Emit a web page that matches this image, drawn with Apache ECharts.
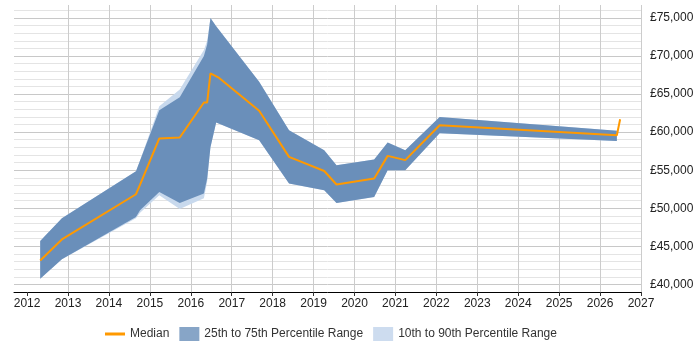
<!DOCTYPE html>
<html>
<head>
<meta charset="utf-8">
<script src="https://cdn.jsdelivr.net/npm/echarts@6/dist/echarts.min.js"></script>
<style>
  html, body { margin: 0; padding: 0; background: #fff; }
  #chart { width: 700px; height: 350px; }
</style>
</head>
<body>
<div id="chart"></div>
<script>
// median salary points (decimal year, £)
const medianYears = [2012.32, 2012.85, 2014.66, 2014.76, 2015.23, 2015.73, 2016.32, 2016.40, 2016.48, 2016.67,
  2017.67, 2018.40, 2019.26, 2019.56, 2020.48, 2020.81, 2021.24, 2022.08, 2026.41, 2026.49];
const median = [43150, 45900, 51840, 53100, 59170, 59300, 63900, 63900, 67720, 67200,
  62800, 56750, 54900, 53120, 53900, 56880, 56320, 60900, 59600, 61700];

// percentile bands
const bandYears = [2012.32, 2012.85, 2014.66, 2014.76, 2015.23, 2015.73, 2016.32, 2016.40, 2016.48, 2016.62,
  2017.67, 2018.40, 2019.26, 2019.56, 2020.48, 2020.81, 2021.24, 2022.08, 2026.41];
const p10 = [40750, 43300, 48700, 49400, 51700, 49900, 51300, 53500, 58000, 61270,
  58950, 53250, 52370, 50700, 51490, 55000, 55000, 59850, 58820];
const p25 = [40750, 43300, 48860, 49740, 52150, 50700, 51930, 53900, 58000, 61270,
  58950, 53250, 52370, 50700, 51490, 55000, 55000, 59850, 58820];
const p75 = [45700, 48700, 54870, 56280, 62890, 64570, 70000, 71500, 75000, 73900,
  66620, 60260, 57630, 55660, 56400, 58640, 57630, 62000, 60170];
const p90 = [45700, 48700, 54870, 56280, 63400, 65600, 70800, 72000, 75000, 73900,
  66620, 60260, 57630, 55660, 56400, 58640, 57630, 62000, 60170];

const yearTicks = [2012, 2013, 2014, 2015, 2016, 2017, 2018, 2019, 2020, 2021, 2022, 2023, 2024, 2025, 2026, 2027];

const darkBand = '#6a8fba';
const lightBand = '#c8d9ed';
const orange = '#ff9900';

let chartDom = document.getElementById('chart');
let myChart = echarts.init(chartDom);

// one polygon per band: upper edge forward, lower edge back
function bandSeries(name, low, high, color, z) {
  return {
    name: name,
    type: 'custom',
    z: z,
    silent: true,
    itemStyle: { color: color },
    encode: { x: 0, y: [1, 2] },
    data: bandYears.map((x, i) => [x, low[i], high[i]]),
    renderItem: function (params, api) {
      if (params.dataIndex !== 0) return;
      const pts = [];
      for (let i = 0; i < bandYears.length; i++) pts.push(api.coord([bandYears[i], high[i]]));
      for (let i = bandYears.length - 1; i >= 0; i--) pts.push(api.coord([bandYears[i], low[i]]));
      return {
        type: 'polygon',
        shape: { points: pts },
        style: { fill: color },
      };
    },
  };
}

const option = {
  animation: false,
  textStyle: { fontFamily: 'Liberation Sans, Arial, sans-serif' },
  grid: { left: 14, right: 59, top: 5, bottom: 58 },
  legend: {
    bottom: 4,
    left: 100,
    itemWidth: 20,
    itemHeight: 14,
    itemGap: 10,
    textStyle: { fontSize: 12, color: '#333' },
    data: [
      { name: 'Median', icon: 'path://M0,0 M20,14 M0,5.5 L20,5.5 L20,8.5 L0,8.5 Z', itemStyle: { color: orange } },
      { name: '25th to 75th Percentile Range', icon: 'rect', itemStyle: { color: '#87a5c7' } },
      { name: '10th to 90th Percentile Range', icon: 'rect', itemStyle: { color: '#cddcef' } },
    ],
  },
  xAxis: {
    type: 'value',
    min: 2011.68,
    max: 2027,
    splitNumber: 15,
    axisLine: { show: true, lineStyle: { color: '#000', width: 1 } },
    axisTick: { show: true, length: 4, customValues: yearTicks, lineStyle: { color: '#333' } },
    axisLabel: {
      customValues: yearTicks,
      color: '#222',
      fontSize: 12,
      margin: 6,
      formatter: (v) => String(Math.round(v)),
    },
    splitLine: { show: true, showMinLine: false, lineStyle: { color: '#cccccc' } },
  },
  yAxis: {
    type: 'value',
    position: 'right',
    min: 39000,
    max: 76700,
    interval: 1000,
    axisLine: { show: false },
    axisTick: { show: false },
    axisLabel: {
      color: '#222',
      fontSize: 12,
      margin: 9,
      formatter: (v) => (v % 5000 === 0 ? '£' + v.toLocaleString('en-GB') : ''),
    },
    splitLine: {
      show: true,
      showMaxLine: false,
      lineStyle: { color: ['#e4e4e4', '#c8c8c8', '#e4e4e4', '#e4e4e4', '#e4e4e4'] },
    },
  },
  series: [
    bandSeries('10th to 90th Percentile Range', p10, p90, lightBand, 2),
    bandSeries('25th to 75th Percentile Range', p25, p75, darkBand, 3),
    {
      name: 'Median',
      type: 'line',
      symbol: 'none',
      itemStyle: { color: orange },
      lineStyle: { color: orange, width: 2 },
      data: medianYears.map((x, i) => [x, median[i]]),
      z: 5,
    },
  ],
};

option && myChart.setOption(option);
</script>
</body>
</html>
